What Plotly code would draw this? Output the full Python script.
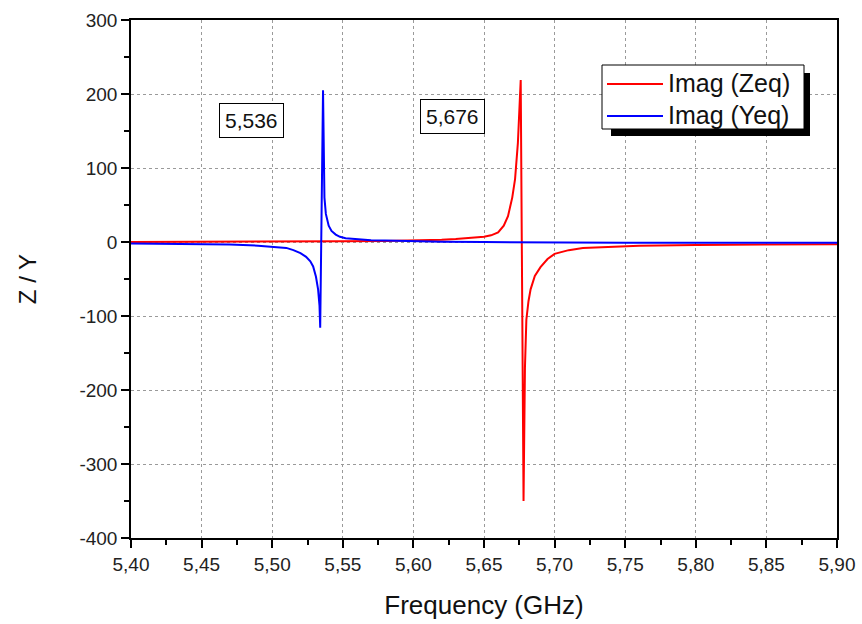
import plotly.graph_objects as go

# Imag (Zeq) - red
freq_z = [5.40, 5.45, 5.50, 5.55, 5.58, 5.60, 5.62, 5.63, 5.64, 5.65, 5.655, 5.66,
          5.664, 5.667, 5.670, 5.672, 5.674, 5.675, 5.676, 5.678, 5.679, 5.680,
          5.6815, 5.683, 5.686, 5.69, 5.695, 5.70, 5.71, 5.72, 5.74, 5.76, 5.80,
          5.85, 5.90]
imag_z = [0, 0, 0.5, 1, 1.5, 2, 3, 4, 5, 7, 9, 13,
          22, 35, 60, 85, 134, 170, 219, -350, -170, -105,
          -80, -64, -46, -34, -23, -16, -11, -8, -6, -5, -4,
          -3, -3]

# Imag (Yeq) - blue
freq_y = [5.40, 5.44, 5.47, 5.49, 5.50, 5.51, 5.515, 5.52, 5.524, 5.527, 5.529,
          5.531, 5.5325, 5.5335, 5.534, 5.536, 5.537, 5.538, 5.540, 5.542, 5.545,
          5.548, 5.552, 5.56, 5.57, 5.58, 5.60, 5.62, 5.65, 5.70, 5.75, 5.80,
          5.85, 5.90]
imag_y = [-2, -2.5, -3.5, -5, -6, -8, -11, -15, -20, -26, -33,
          -47, -64, -86, -116, 205, 60, 38, 22, 15, 10,
          7, 5, 3.5, 2.5, 2, 1, 0.5, 0, -1, -1, -1,
          -1, -1]

series_names = ["Imag (Zeq)", "Imag (Yeq)"]
series_colors = ["#ff0000", "#0000ff"]

x_ticks = [5.40, 5.45, 5.50, 5.55, 5.60, 5.65, 5.70, 5.75, 5.80, 5.85, 5.90]
y_ticks = [-400, -300, -200, -100, 0, 100, 200, 300]
y_tick_text = ["-400", "-300", "-200", "-100", "0", "100", "200", "300"]

peak_labels = ["5,536", "5,676"]
peak_label_x = [5.485, 5.628]
peak_label_y = [164, 170]

FONT = "Liberation Sans, Arial, sans-serif"

fig = go.Figure()
for fx, fy, nm, col in zip([freq_z, freq_y], [imag_z, imag_y], series_names, series_colors):
    fig.add_trace(go.Scatter(x=fx, y=fy, mode="lines", name=nm,
                             line=dict(color=col, width=2), showlegend=False))

for txt, xx, yy in zip(peak_labels, peak_label_x, peak_label_y):
    fig.add_annotation(x=xx, y=yy, xref="x", yref="y", text=txt, showarrow=False,
                       font=dict(family=FONT, size=21, color="#111111"),
                       bordercolor="black", borderwidth=1, borderpad=5,
                       bgcolor="white")

W, H = 862, 624
L, R, T, B = 131, 25, 20, 86
pw, ph = W - L - R, H - T - B

def px(x):
    return (x - L) / pw

def py(y):
    return (H - B - y) / ph

# legend box with drop shadow
fig.add_shape(type="rect", xref="paper", yref="paper",
              x0=px(611), x1=px(810), y0=py(136), y1=py(73),
              fillcolor="black", line=dict(width=0), layer="above")
fig.add_shape(type="rect", xref="paper", yref="paper",
              x0=px(602), x1=px(804), y0=py(129), y1=py(65),
              fillcolor="white", line=dict(color="black", width=1), layer="above")
for i, (nm, col) in enumerate(zip(series_names, series_colors)):
    yy = 84 + 32 * i
    fig.add_shape(type="line", xref="paper", yref="paper",
                  x0=px(607), x1=px(663), y0=py(yy), y1=py(yy),
                  line=dict(color=col, width=2), layer="above")
    fig.add_annotation(xref="paper", yref="paper", x=px(666), y=py(yy - 1),
                       xanchor="left", yanchor="middle", showarrow=False,
                       text=nm, font=dict(family=FONT, size=25, color="#111111"))

fig.update_layout(
    width=W, height=H,
    margin=dict(l=L, r=R, t=T, b=B, autoexpand=False),
    paper_bgcolor="white", plot_bgcolor="white",
    separators=", ",
    font=dict(family=FONT, size=19, color="#222222"),
    showlegend=False,
    xaxis=dict(range=[5.40, 5.90], tickvals=x_ticks, tickformat=".2f",
               showline=True, linecolor="black", linewidth=1.5, mirror=True,
               ticks="outside", ticklen=8, tickwidth=1.5, tickcolor="black",
               minor=dict(ticks="outside", ticklen=5, tickwidth=1.5, tickcolor="black", dtick=0.025, showgrid=False),
               showgrid=True, gridcolor="#9a9a9a", griddash="dot", gridwidth=1,
               zeroline=False, automargin=False,
               title=dict(text="Frequency (GHz)", font=dict(size=26, family=FONT, color="#111111"), standoff=22),
               tickfont=dict(size=19, family=FONT)),
    yaxis=dict(range=[-400, 300], tickvals=y_ticks, ticktext=y_tick_text,
               showline=True, linecolor="black", linewidth=1.5, mirror=True,
               ticks="outside", ticklen=8, tickwidth=1.5, tickcolor="black",
               minor=dict(ticks="outside", ticklen=5, tickwidth=1.5, tickcolor="black", dtick=50, showgrid=False),
               showgrid=True, gridcolor="#9a9a9a", griddash="dot", gridwidth=1,
               zeroline=False, automargin=False,
               title=dict(text="Z / Y", font=dict(size=24, family=FONT, color="#111111"), standoff=36),
               tickfont=dict(size=19, family=FONT)),
)

fig.write_html("out.html")
